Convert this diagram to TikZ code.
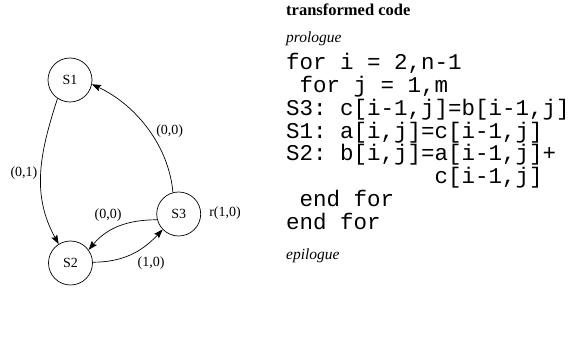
\documentclass[tikz,border=0pt]{standalone}
\usepackage{fontspec}
\setmainfont{Liberation Serif}
\setmonofont{Liberation Mono}
\usepackage{tikz}
\usetikzlibrary{arrows.meta, positioning}

\begin{document}
\begin{tikzpicture}[
        x=1pt, y=1pt,
        state/.style={circle, draw, minimum size=44pt, inner sep=0pt, line width=0.7pt, font=\fontsize{14}{16}\selectfont},
        lbl/.style={inner sep=0pt, font=\fontsize{14}{16}\selectfont},
        dep/.style={-{Stealth[length=9pt, width=6.5pt, inset=1.5pt]}, line width=0.7pt},
        codehead/.style={anchor=base west, inner sep=0pt},
        code/.style={anchor=base west, inner sep=0pt, font=\fontsize{22.5}{24}\selectfont\ttfamily}
    ]
        \useasboundingbox (0,0) rectangle (574,343);

        % dependence graph
        \node[state] (s1) at (70, 263) {S1};
        \node[state] (s2) at (70.5, 80) {S2};
        \node[state] (s3) at (178.7, 129) {S3};

        \draw[dep] (s1.236) to[out=252, in=119] (s2.122);
        \draw[dep] (s3.105) to[out=95, in=-25, looseness=0.9] (s1.-11);
        \draw[dep] (s3.195) to[out=180, in=50] (s2.36);
        \draw[dep] (s2.2) to[out=0, in=227] (s3.224);

        \node[lbl] (l12) at (24, 170) {(0,1)};
        \node[lbl] (l31) at (169.7, 212) {(0,0)};
        \node[lbl] (l32) at (108, 128) {(0,0)};
        \node[lbl] (l23) at (151, 80) {(1,0)};
        \node[lbl] (l33) at (225, 130) {r(1,0)};

        % transformed code
        \node[codehead] (title) at (286, 327) {\fontsize{16.5}{18}\selectfont\bfseries transformed code};
        \node[codehead] (pro) at (286, 300) {\fontsize{15.5}{17}\selectfont\itshape prologue};
        \node[code] (c1) at (286, 273) {for i = 2,n-1};
        \node[code] (c2) at (286, 250.25) {\ for j = 1,m};
        \node[code] (c3) at (286, 227.5) {S3: c[i-1,j]=b[i-1,j]};
        \node[code] (c4) at (286, 204.75) {S1: a[i,j]=c[i-1,j]};
        \node[code] (c5) at (286, 182) {S2: b[i,j]=a[i-1,j]+};
        \node[code] (c6) at (286, 159.25) {\phantom{S2: b[i,j]=}c[i-1,j]};
        \node[code] (c7) at (286, 136.5) {\ end for};
        \node[code] (c8) at (286, 113.75) {end for};
        \node[codehead] (epi) at (286, 83) {\fontsize{15.5}{17}\selectfont\itshape epilogue};
\end{tikzpicture}
\end{document}
